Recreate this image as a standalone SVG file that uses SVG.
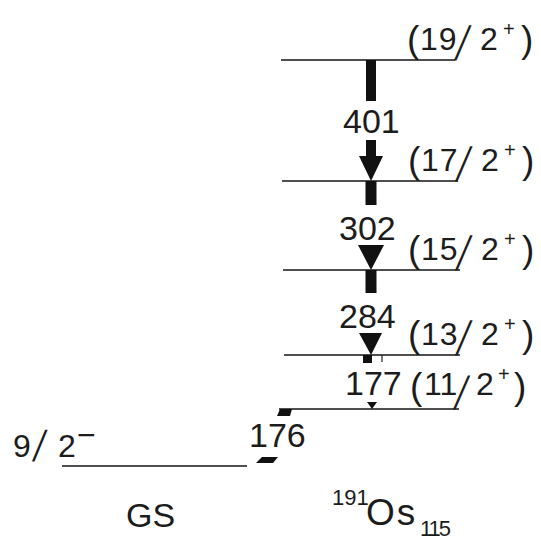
<svg xmlns="http://www.w3.org/2000/svg" width="541" height="542" viewBox="0 0 541 542">
<style>
text{font-family:"Liberation Sans","DejaVu Sans",sans-serif;fill:#1c1c1c}
.d{font-size:32px}
.p{font-size:37px}
.sl{font-size:32px}
.sup{font-size:20px}
.e{font-size:34px}
.lv{stroke:#151515;stroke-width:1.6;fill:none}
.g{fill:#111;stroke:none}
</style>
<rect width="541" height="542" fill="#fff"/>
<g id="levels">
<g id="l19"><line class="lv" x1="281" y1="60" x2="455" y2="60"/>
<g transform="translate(407,60)"><text class="p" x="0" y="-8">(</text><text class="d" x="13" y="-10" letter-spacing="1">19</text><text class="sl" transform="translate(47,0) skewX(-14) scale(1,1.5)">/</text><text class="d" x="73" y="-10">2</text><text class="sup" x="96" y="-24">+</text><text class="p" x="114" y="-8">)</text></g></g>
<g id="l17"><line class="lv" x1="282" y1="181" x2="458" y2="181"/>
<g transform="translate(408,181)"><text class="p" x="0" y="-8">(</text><text class="d" x="13" y="-10" letter-spacing="1">17</text><text class="sl" transform="translate(47,0) skewX(-14) scale(1,1.5)">/</text><text class="d" x="73" y="-10">2</text><text class="sup" x="96" y="-24">+</text><text class="p" x="114" y="-8">)</text></g></g>
<g id="l15"><line class="lv" x1="283" y1="270" x2="460" y2="270"/>
<g transform="translate(408,270)"><text class="p" x="0" y="-8">(</text><text class="d" x="13" y="-10" letter-spacing="1">15</text><text class="sl" transform="translate(47,0) skewX(-14) scale(1,1.5)">/</text><text class="d" x="73" y="-10">2</text><text class="sup" x="96" y="-24">+</text><text class="p" x="114" y="-8">)</text></g></g>
<g id="l13"><line class="lv" x1="284" y1="355" x2="460" y2="355"/>
<g transform="translate(408,355)"><text class="p" x="0" y="-8">(</text><text class="d" x="13" y="-10" letter-spacing="1">13</text><text class="sl" transform="translate(47,0) skewX(-14) scale(1,1.5)">/</text><text class="d" x="73" y="-10">2</text><text class="sup" x="96" y="-24">+</text><text class="p" x="114" y="-8">)</text></g></g>
<g id="l11"><line class="lv" x1="279" y1="409" x2="459" y2="409" stroke-width="2.2"/>
<g transform="translate(410,409)"><text class="p" x="0" y="-10">(</text><text class="d" x="14" y="-14">11</text><text class="sl" transform="translate(43,0) skewX(-14) scale(1,1.45)">/</text><text class="d" x="66" y="-14">2</text><text class="sup" x="88" y="-28">+</text><text class="p" x="104" y="-10">)</text></g></g>
<g id="gs"><line class="lv" x1="62" y1="466" x2="247" y2="466"/>
<text class="d" x="13" y="457">9</text><text class="sl" transform="translate(32,461) skewX(-12) scale(1,1.35)">/</text><text class="d" x="58" y="457">2</text><text class="d" x="77" y="446">−</text></g>
</g>
<g id="transitions">
<g id="t401"><rect class="g" x="366" y="60" width="10" height="41"/><rect class="g" x="366" y="140" width="10" height="18"/><polygon class="g" points="359,156 383,156 371,181"/><text class="e" x="343" y="133">401</text></g>
<g id="t302"><rect class="g" x="365.5" y="181" width="11" height="24"/><polygon class="g" points="358,245 384,245 371,270"/><text class="e" x="339" y="240">302</text></g>
<g id="t284"><rect class="g" x="365.5" y="270" width="11" height="23"/><polygon class="g" points="359,333 382,333 371,355"/><text class="e" x="339" y="328">284</text></g>
<g id="t177"><rect class="g" x="363" y="355" width="9" height="8"/><line x1="382" y1="355" x2="382" y2="362" stroke="#222" stroke-width="1.2"/><polygon class="g" points="367,402 377,402 372,409"/><text class="e" x="345" y="395">177</text></g>
<g id="t176"><polygon class="g" points="280,409 292,409 290,416 277,416"/><polygon class="g" points="262,457 278,457 273,463 256,463"/><text class="e" x="249" y="447">176</text></g>
</g>
<g id="captions">
<text class="e" x="126" y="527">GS</text>
<text x="332" y="505" font-size="22">191</text><text x="366" y="525" font-size="37" letter-spacing="2">Os</text><text x="420" y="536" font-size="22" letter-spacing="-2">115</text>
</g>
</svg>
